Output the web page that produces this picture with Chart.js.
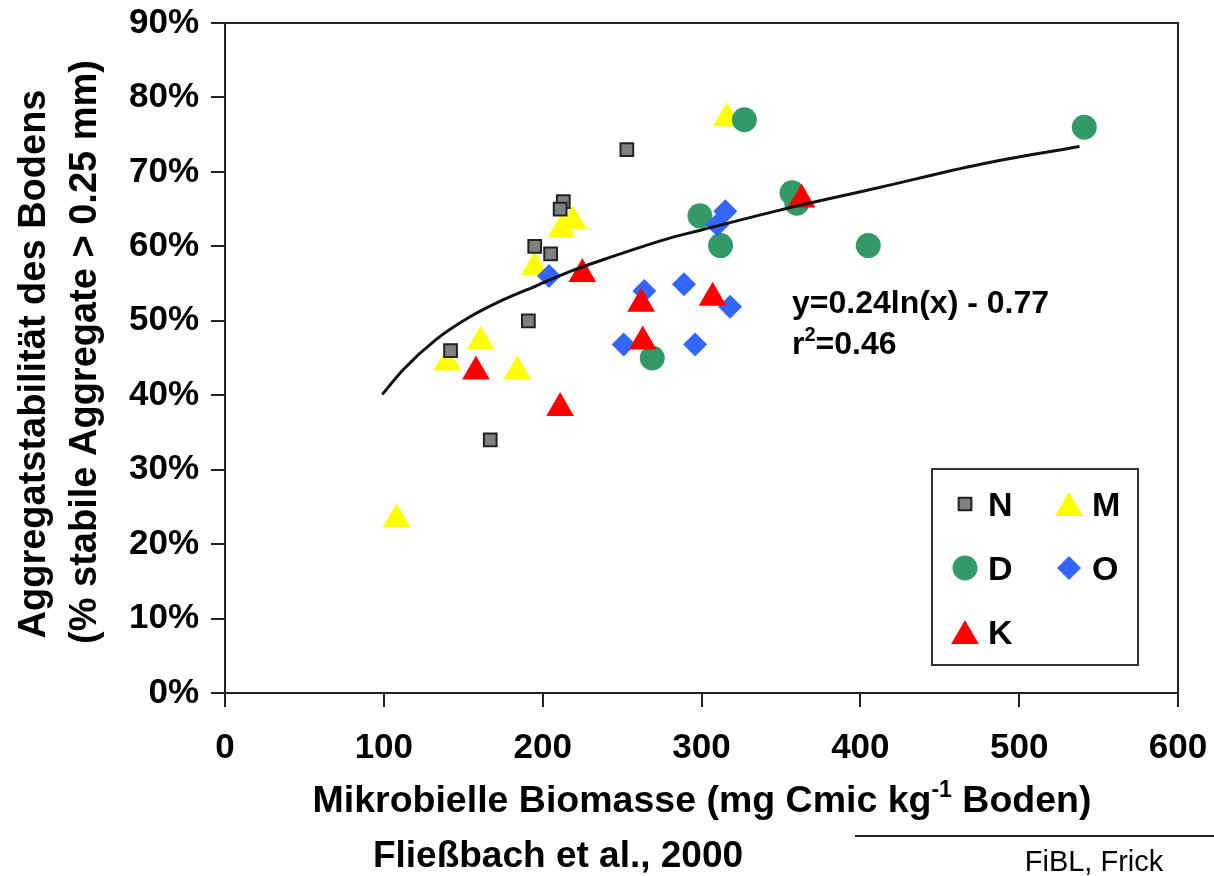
<!DOCTYPE html>
<html>
<head>
<meta charset="utf-8">
<script src="https://cdn.jsdelivr.net/npm/chart.js@4.4.0/dist/chart.umd.min.js"></script>
<style>
  html, body { margin: 0; padding: 0; background: #fff; }
  #wrap { width: 1214px; height: 876px; position: relative; }
</style>
</head>
<body>
<div id="wrap"><canvas id="chart"></canvas></div>
<script>
// values (x = mg Cmic/kg, y = % stable aggregates)
const nX = [253, 213, 211, 195, 205, 191, 142, 167];
const nY = [73, 66, 65, 60, 59, 50, 46, 34];

const mX = [316, 219, 212, 195, 161, 140, 184, 108];
const mY = [77.2, 63.4, 62.3, 57.2, 47.2, 44.4, 43.2, 23.3];

const dX = [327, 299, 312, 357, 360, 405, 269, 541];
const dY = [77, 64.1, 60.1, 67.2, 65.8, 60.1, 45, 76];

const oX = [204, 264, 289, 318, 251, 296, 315, 310];
const oY = [56, 54, 54.9, 51.9, 46.8, 46.8, 64.7, 62.9];

const kX = [225, 262, 158, 211, 263, 307, 363];
const kY = [56.3, 52.3, 43.2, 38.3, 47.2, 53.1, 66.3];

// trend curve
const trendX = [99, 112, 133, 154, 175, 196, 217, 238, 280, 300, 350, 412, 475, 538];
const trendY = [40.1, 43.4, 47.5, 50.5, 52.8, 54.7, 56.6, 58.2, 61.1, 62.2, 64.9, 67.9, 71.0, 73.4];

const xTicks = [0, 100, 200, 300, 400, 500, 600];
const yTicks = [0, 10, 20, 30, 40, 50, 60, 70, 80, 90];

const FONT = "'Liberation Sans', Arial, Helvetica, sans-serif";

const pts = (xs, ys) => xs.map((x, i) => ({x: x, y: ys[i]}));

const series = {
    N: {style: 'rect', radius: 9, fill: '#808080', border: '#222', bw: 2},
    M: {style: 'triangle', radius: 16, fill: '#FFFF00', border: '#FFFF00', bw: 0},
    D: {style: 'circle', radius: 12.5, fill: '#339966', border: '#339966', bw: 0},
    O: {style: 'rectRot', radius: 12, fill: '#3366FF', border: '#3366FF', bw: 0},
    K: {style: 'triangle', radius: 16, fill: '#FF0000', border: '#FF0000', bw: 0}
};

const scatterSet = (key, data, order) => ({
    type: 'scatter',
    label: key,
    data: data,
    order: order,
    pointStyle: series[key].style,
    pointRadius: series[key].radius,
    pointHoverRadius: series[key].radius,
    backgroundColor: series[key].fill,
    borderColor: series[key].border,
    borderWidth: series[key].bw
});

const drawMarker = (ctx, key, x, y) => {
    const s = series[key];
    ctx.save();
    ctx.fillStyle = s.fill;
    ctx.strokeStyle = s.border;
    ctx.lineWidth = s.bw;
    Chart.helpers.drawPoint(ctx, {pointStyle: s.style, radius: s.radius, borderWidth: s.bw, rotation: 0}, x, y);
    ctx.restore();
};

// text with a raised part: pieces = [[text, isSup], ...]
const drawRich = (ctx, pieces, x, y, size, align, weight) => {
    const supSize = Math.round(size * 0.62);
    const widths = pieces.map(([t, sup]) => {
        ctx.font = `${weight} ${sup ? supSize : size}px ${FONT}`;
        return ctx.measureText(t).width;
    });
    const total = widths.reduce((a, b) => a + b, 0);
    let cx = align === 'center' ? x - total / 2 : x;
    ctx.textAlign = 'left';
    ctx.textBaseline = 'alphabetic';
    pieces.forEach(([t, sup], i) => {
        ctx.font = `${weight} ${sup ? supSize : size}px ${FONT}`;
        ctx.fillText(t, cx, sup ? y - size * 0.4 : y);
        cx += widths[i];
    });
};

const extras = {
    id: 'extras',
    afterDraw(chart) {
        const ctx = chart.ctx;
        const a = chart.chartArea;
        ctx.save();
        // top and right frame
        ctx.strokeStyle = '#222';
        ctx.lineWidth = 2;
        ctx.beginPath();
        ctx.moveTo(a.left, a.top);
        ctx.lineTo(a.right, a.top);
        ctx.lineTo(a.right, a.bottom);
        ctx.stroke();

        ctx.fillStyle = '#000';
        // y title, two lines
        ctx.font = `bold 38px ${FONT}`;
        ctx.textAlign = 'center';
        ctx.textBaseline = 'alphabetic';
        ctx.save();
        ctx.translate(45, 364);
        ctx.rotate(-Math.PI / 2);
        ctx.fillText('Aggregatstabilität des Bodens', 0, 0);
        ctx.restore();
        ctx.save();
        ctx.translate(96, 352);
        ctx.rotate(-Math.PI / 2);
        ctx.fillText('(% stabile Aggregate > 0.25 mm)', 0, 0);
        ctx.restore();

        // x title
        drawRich(ctx, [['Mikrobielle Biomasse (mg Cmic kg', false], ['-1', true], [' Boden)', false]],
                 702, 812, 37.5, 'center', 'bold');

        // equation
        drawRich(ctx, [['y=0.24ln(x) - 0.77', false]], 792, 313, 32, 'left', 'bold');
        drawRich(ctx, [['r', false], ['2', true], ['=0.46', false]], 792, 354, 32, 'left', 'bold');

        // source lines
        drawRich(ctx, [['Fließbach et al., 2000', false]], 558, 867, 37, 'center', 'bold');
        ctx.strokeStyle = '#222';
        ctx.lineWidth = 2;
        ctx.beginPath();
        ctx.moveTo(855, 836);
        ctx.lineTo(1214, 836);
        ctx.stroke();
        drawRich(ctx, [['FiBL, Frick', false]], 1094, 871, 29, 'center', 'normal');

        // legend box
        ctx.strokeStyle = '#333';
        ctx.lineWidth = 2;
        ctx.strokeRect(932, 469, 206, 196);
        const legendItems = [['N', 965, 504], ['M', 1069, 504], ['D', 965, 568], ['O', 1069, 568], ['K', 965, 632]];
        legendItems.forEach(([key, x, y]) => {
            drawMarker(ctx, key, x, key === 'M' || key === 'K' ? y + 4 : y);
            ctx.fillStyle = '#000';
            ctx.font = `bold 34px ${FONT}`;
            ctx.textAlign = 'left';
            ctx.textBaseline = 'alphabetic';
            ctx.fillText(key, x + 23, y + 12);
        });
        ctx.restore();
    }
};

const axisGrid = {display: true, drawOnChartArea: false, drawTicks: true, tickLength: 14, color: '#222', lineWidth: 2};
const axisBorder = {display: true, color: '#222', width: 2};

new Chart(document.getElementById('chart'), {
    type: 'scatter',
    data: {
        datasets: [
            {
                type: 'line',
                label: 'trend',
                data: pts(trendX, trendY),
                order: 0,
                borderColor: '#111',
                borderWidth: 3,
                pointRadius: 0,
                fill: false,
                cubicInterpolationMode: 'monotone'
            },
            scatterSet('K', pts(kX, kY), 1),
            scatterSet('O', pts(oX, oY), 2),
            scatterSet('D', pts(dX, dY), 3),
            scatterSet('N', pts(nX, nY), 4),
            scatterSet('M', pts(mX, mY), 5)
        ]
    },
    options: {
        responsive: true,
        maintainAspectRatio: false,
        animation: false,
        events: [],
        layout: {padding: {left: 0, right: 36, top: 23, bottom: 0}},
        plugins: {legend: {display: false}, tooltip: {enabled: false}},
        scales: {
            x: {
                type: 'linear',
                min: 0, max: 600,
                afterBuildTicks: s => { s.ticks = xTicks.map(v => ({value: v})); },
                grid: axisGrid,
                border: axisBorder,
                ticks: {color: '#000', padding: 20, font: {family: FONT, size: 35, weight: 'bold'}, maxRotation: 0},
                afterFit: s => { s.height = 183; s.paddingLeft = 0; s.paddingRight = 0; }
            },
            y: {
                type: 'linear',
                min: 0, max: 90,
                afterBuildTicks: s => { s.ticks = yTicks.map(v => ({value: v})); },
                grid: axisGrid,
                border: axisBorder,
                ticks: {color: '#000', padding: 12, font: {family: FONT, size: 35, weight: 'bold'}, callback: v => v + '%'},
                afterFit: s => { s.width = 225; s.paddingTop = 0; s.paddingBottom = 0; }
            }
        }
    },
    plugins: [extras]
});
</script>
</body>
</html>
